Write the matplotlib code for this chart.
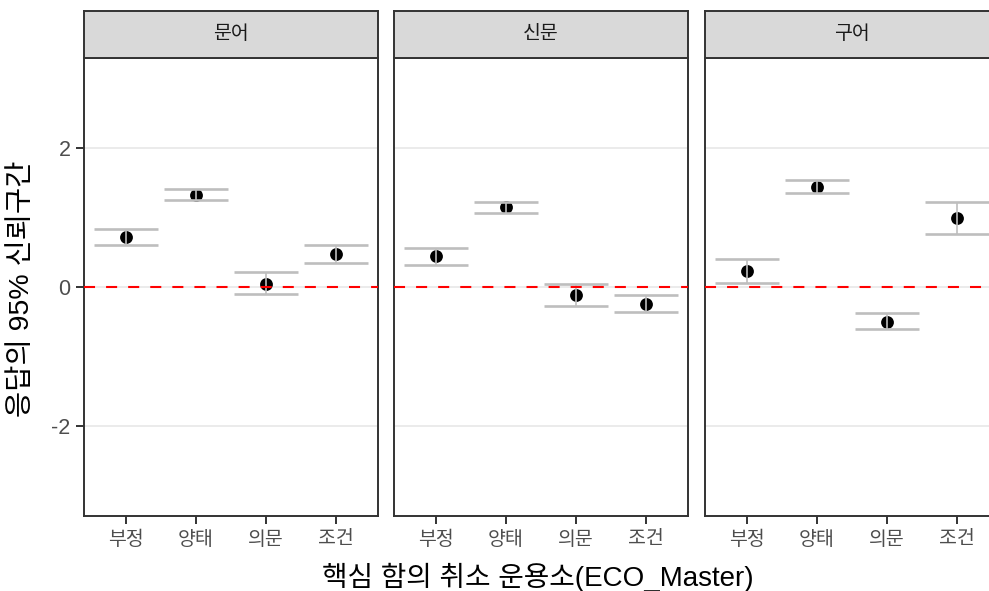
import matplotlib
matplotlib.use("Agg")
import matplotlib.pyplot as plt

plt.rcParams['font.family'] = ['Liberation Sans', 'Noto Sans CJK KR', 'DejaVu Sans']

panels = ['문어', '신문', '구어']
categories = ['부정', '양태', '의문', '조건']
means = {
    '문어': [0.72, 1.33, 0.05, 0.47],
    '신문': [0.44, 1.15, -0.12, -0.24],
    '구어': [0.235, 1.44, -0.50, 0.99],
}
lower = {
    '문어': [0.61, 1.26, -0.10, 0.35],
    '신문': [0.31, 1.07, -0.28, -0.36],
    '구어': [0.06, 1.35, -0.61, 0.77],
}
upper = {
    '문어': [0.84, 1.41, 0.21, 0.60],
    '신문': [0.56, 1.23, 0.04, -0.12],
    '구어': [0.41, 1.54, -0.37, 1.22],
}
yticks = [-2, 0, 2]
ylabel = '응답의 95% 신뢰구간'
xlabel = '핵심 함의 취소 운용소(ECO_Master)'

W, H = 989, 591
fig = plt.figure(figsize=(W / 100, H / 100), dpi=100)
fig.patch.set_facecolor('white')

lefts = [84, 394, 705]
pw = 294
top_px, bot_px = 58, 516
strip_top = 11
border = '#333333'

for i, p in enumerate(panels):
    ax = fig.add_axes([lefts[i] / W, 1 - bot_px / H, pw / W, (bot_px - top_px) / H])
    x = list(range(len(categories)))
    ax.set_xlim(-0.6, len(categories) - 0.4)
    ax.set_ylim(-3.3, 3.3)
    for yt in yticks:
        ax.axhline(yt, color='#EBEBEB', lw=1.4, zorder=0)
    ax.scatter(x, means[p], s=85, color='black', linewidths=0, zorder=2)
    yerr = [[m - l for m, l in zip(means[p], lower[p])],
            [u - m for m, u in zip(means[p], upper[p])]]
    ax.errorbar(x, means[p], yerr=yerr, fmt='none', ecolor='#BEBEBE',
                elinewidth=1.2, capsize=22.7, capthick=1.9, zorder=3)
    ax.axhline(0, color='#FF0000', lw=1.5, ls=(0, (5.3, 5.3)), zorder=4)
    ax.set_xticks(x)
    ax.set_xticklabels(categories, fontsize=14, color='#4D4D4D')
    ax.set_yticks(yticks)
    if i == 0:
        ax.set_yticklabels([str(v) for v in yticks], fontsize=15.5, color='#4D4D4D')
    else:
        ax.tick_params(axis='y', left=False, labelleft=False)
    ax.tick_params(axis='x', length=5.8, width=1.4, color='#333333', pad=5)
    ax.tick_params(axis='y', length=5.8, width=1.4, color='#333333', pad=4)
    for s in ax.spines.values():
        s.set_color(border)
        s.set_linewidth(1.4)
    # strip
    sax = fig.add_axes([lefts[i] / W, 1 - top_px / H, pw / W, (top_px - strip_top) / H])
    sax.set_xticks([]); sax.set_yticks([])
    sax.set_facecolor('#D9D9D9')
    for s in sax.spines.values():
        s.set_color(border)
        s.set_linewidth(1.4)
    sax.text(0.5, 0.5, p, ha='center', va='center', fontsize=14, color='#1A1A1A',
             transform=sax.transAxes)

fig.text(538 / W, 1 - 577 / H, xlabel, ha='center', va='center', fontsize=20, color='black')
fig.text(22 / W, 1 - 289 / H, ylabel, ha='center', va='center', fontsize=20.5,
         rotation=90, color='black')

fig.savefig('out.png', dpi=100, facecolor='white')
